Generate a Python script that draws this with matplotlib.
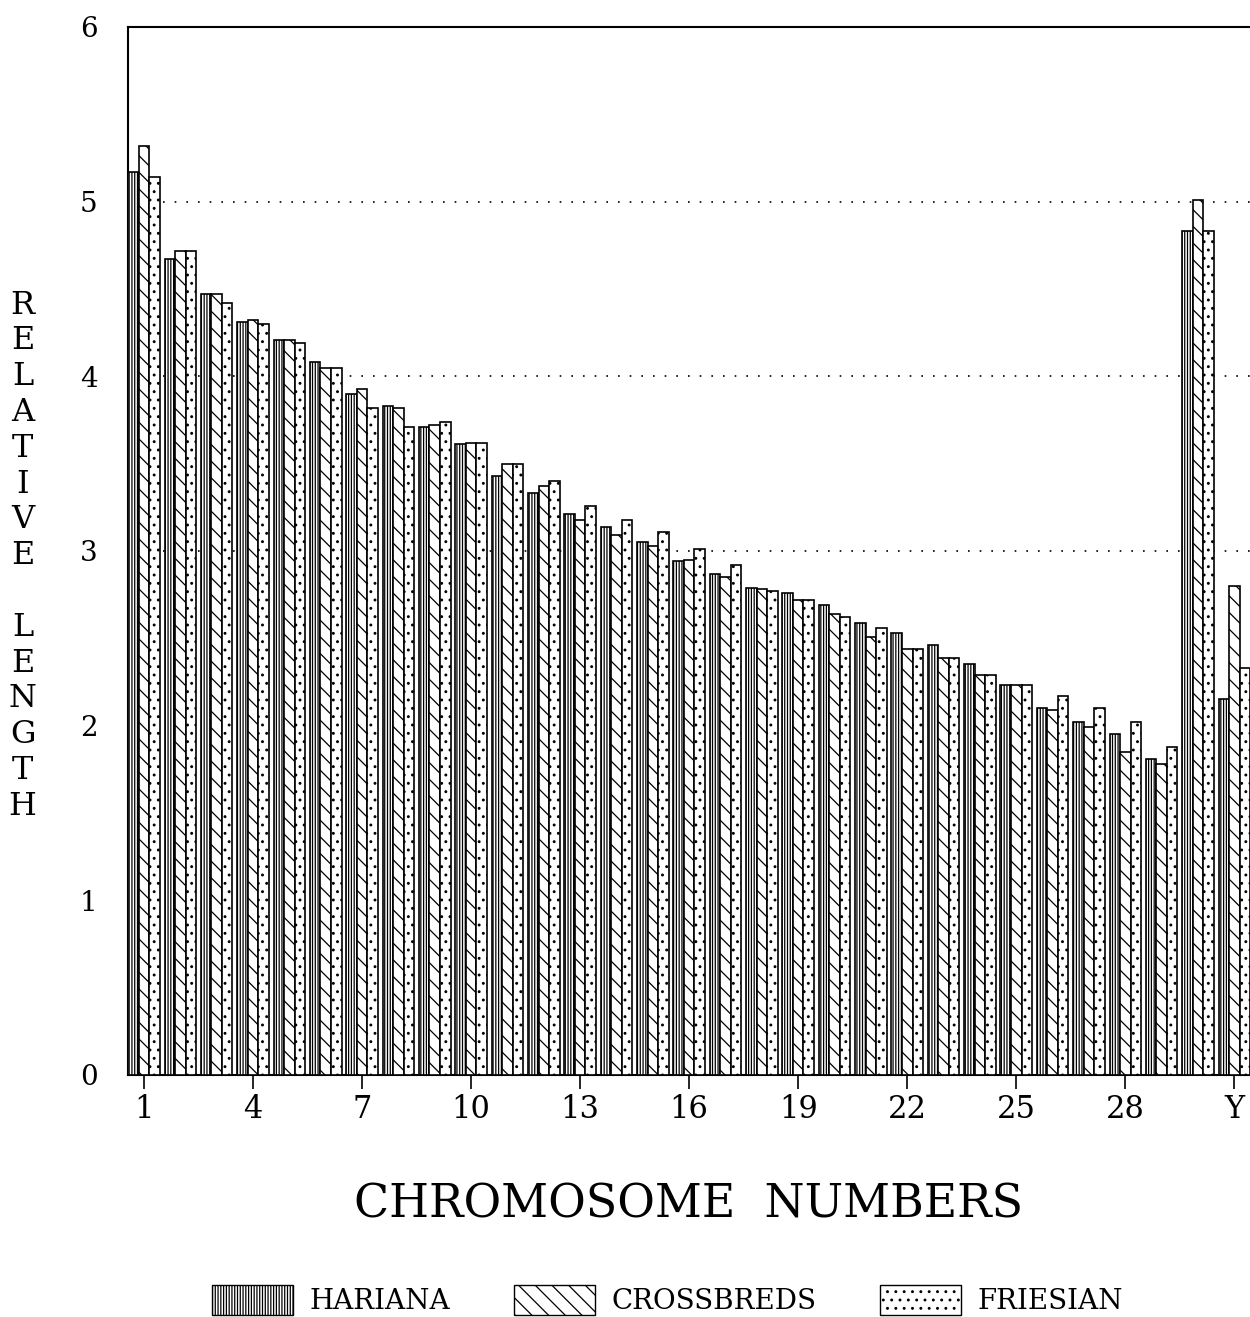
import numpy as np
import matplotlib.pyplot as plt
from matplotlib.patches import Patch

# chromosome groups: 1..29, X, Y
chrom = list(range(1, 30)) + ["X", "Y"]
hariana = [5.17, 4.67, 4.47, 4.31, 4.21, 4.08, 3.90, 3.83, 3.71, 3.61,
           3.43, 3.33, 3.21, 3.14, 3.05, 2.94, 2.87, 2.79, 2.76, 2.69,
           2.59, 2.53, 2.46, 2.35, 2.23, 2.10, 2.02, 1.95, 1.81, 4.83, 2.15]
crossbreds = [5.32, 4.72, 4.47, 4.32, 4.21, 4.05, 3.93, 3.82, 3.72, 3.62,
              3.50, 3.37, 3.18, 3.09, 3.03, 2.95, 2.85, 2.78, 2.72, 2.64,
              2.51, 2.44, 2.39, 2.29, 2.23, 2.09, 1.99, 1.85, 1.78, 5.01, 2.80]
friesian = [5.14, 4.72, 4.42, 4.30, 4.19, 4.05, 3.82, 3.71, 3.74, 3.62,
            3.50, 3.40, 3.26, 3.18, 3.11, 3.01, 2.92, 2.77, 2.72, 2.62,
            2.56, 2.44, 2.39, 2.29, 2.23, 2.17, 2.10, 2.02, 1.88, 4.83, 2.33]
tick_pos = [1, 4, 7, 10, 13, 16, 19, 22, 25, 28, 31]
tick_lab = ["1", "4", "7", "10", "13", "16", "19", "22", "25", "28", "Y"]

plt.rcParams['font.family'] = ['DejaVu Serif']
plt.rcParams['hatch.linewidth'] = 0.9

fig = plt.figure(figsize=(12.5, 13.17), dpi=100)
ax = fig.add_axes([0.1024, 0.1838, 0.8976, 0.7957])

x = np.arange(1, len(chrom) + 1)
w = 0.29
ax.bar(x - w, hariana, w, color="white", edgecolor="black", hatch="||||||", linewidth=1.2, zorder=3)
ax.bar(x, crossbreds, w, color="white", edgecolor="black", hatch="\\\\", linewidth=1.2, zorder=3)
ax.bar(x + w, friesian, w, color="white", edgecolor="black", hatch="..", linewidth=1.2, zorder=3)

ax.set_xlim(0.56, 31.43)
ax.set_ylim(0, 6)
for v in [3, 4, 5]:
    ax.axhline(v, color="black", linestyle=(0, (1, 6)), linewidth=1.2, zorder=1)

ax.spines["right"].set_visible(False)
for s in ["left", "top", "bottom"]:
    ax.spines[s].set_linewidth(1.5)

ax.set_xticks(tick_pos)
ax.set_xticklabels(tick_lab, fontsize=22)
ax.tick_params(axis="x", length=10, width=1.2, direction="out", pad=4)
ax.set_yticks(range(0, 7))
ax.tick_params(axis="y", length=0, labelsize=20, pad=22)

fig.text(0.551, 0.085, "CHROMOSOME  NUMBERS", ha="center", va="center", fontsize=33)

fig.text(0.018, 0.578, "R\nE\nL\nA\nT\nI\nV\nE\n\nL\nE\nN\nG\nT\nH",
         ha="center", va="center", fontsize=23, linespacing=1.2)

handles = [Patch(facecolor="white", edgecolor="black", hatch="||||||", label="HARIANA"),
           Patch(facecolor="white", edgecolor="black", hatch="\\\\", label="CROSSBREDS"),
           Patch(facecolor="white", edgecolor="black", hatch="..", label="FRIESIAN")]
fig.legend(handles=handles, loc="center", bbox_to_anchor=(0.534, 0.013), ncol=3,
           frameon=False, fontsize=20, handlelength=2.9, handleheight=1.3,
           columnspacing=2.3, handletextpad=0.6)

fig.savefig("out.png", dpi=100)
